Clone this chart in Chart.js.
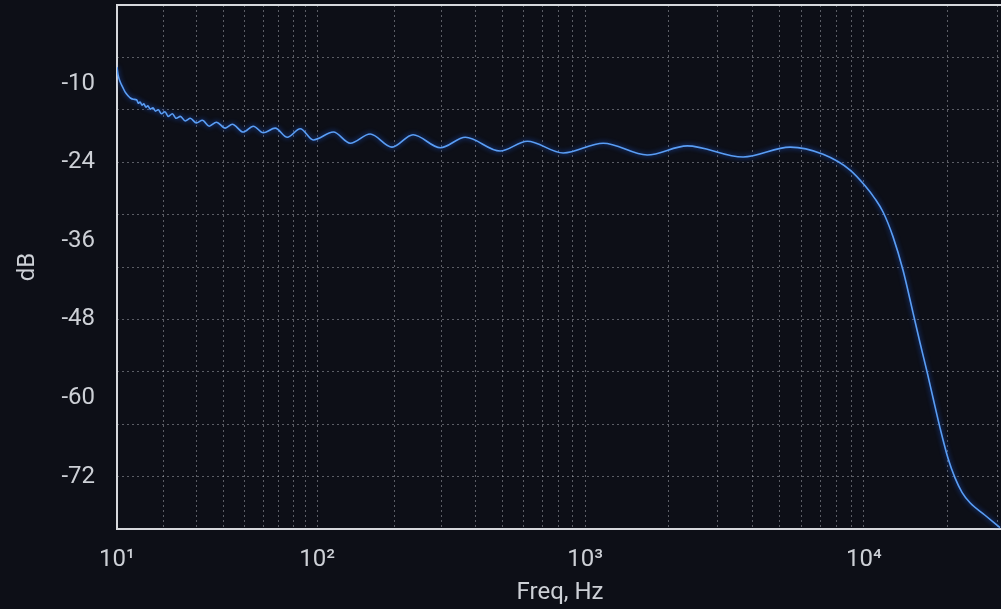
<!DOCTYPE html>
<html>
<head>
<meta charset="utf-8">
<script src="https://cdn.jsdelivr.net/npm/chart.js@4.4.0/dist/chart.umd.min.js"></script>
<style>
  html, body { margin: 0; padding: 0; background: #0d0f17; overflow: hidden; }
  canvas { display: block; }
</style>
</head>
<body>
<canvas id="myChart" width="1003" height="609"></canvas>
<script>
// frequency response
const freqHz = [
  10, 10.2, 10.6, 11.0, 11.5, 12.1, 12.5, 13.1,
  13.8, 14.1, 14.5, 14.9, 15.3, 15.8, 16.2, 16.8, 17.4, 18.0, 18.7, 19.5,
  20.4, 21.3, 22.4, 23.5, 24.7, 26.2, 27.8, 29.8, 31.9, 34.4, 37.2, 40.9,
  44.0, 49.2, 54.5, 60.1, 67.5, 75.8, 85.6, 96.5, 116, 135, 161, 195,
  234, 296, 366, 491, 617, 833, 1162, 1673, 2330, 3698, 5449, 7150,
  8932, 10105, 10972, 11718, 12724, 13813, 15000, 15892, 16832, 17686,
  18740, 20003, 21188, 22444, 23977, 27127, 30690
];
const gainDb = [
  -9.5, -10.7, -11.8, -12.5, -13.3, -13.9, -14.2, -14.4,
  -14.5, -15.0, -14.8, -15.3, -15.1, -15.6, -15.4, -15.9, -15.7, -16.2, -16.0, -16.6,
  -16.3, -17.0, -16.6, -17.3, -17.0, -17.7, -17.3, -18.0, -17.6, -18.5, -17.9, -18.8,
  -18.2, -19.4, -18.5, -19.5, -18.8, -20.2, -18.9, -20.6, -19.4, -21.1, -19.7, -21.7,
  -19.8, -21.8, -20.2, -22.3, -20.8, -22.6, -21.1, -22.9, -21.5, -23.2, -21.7, -22.8,
  -25.2, -27.6, -29.6, -31.6, -35.4, -40.5, -47.0, -51.6, -56.0, -60.0,
  -64.6, -69.2, -72.2, -74.4, -76.0, -77.9, -79.8
];

// axis ticks
const xGridFreqs = [
  10, 20, 30, 40, 50, 60, 70, 80, 90,
  100, 200, 300, 400, 500, 600, 700, 800, 900,
  1000, 2000, 3000, 4000, 5000, 6000, 7000, 8000, 9000,
  10000, 20000, 30000
];
const xTickFreqs = [10, 100, 1000, 10000];
const xTickLabels = ['10¹', '10²', '10³', '10⁴'];
const yGridValues = [-72, -64, -56, -48, -40, -32, -24, -16, -8];
const yLabelValues = [-72, -60, -48, -36, -24, -12];
const yLabelText = ['-72', '-60', '-48', '-36', '-24', '-10'];
const freqMin = 10, freqMax = 31450;
const dbMin = -80, dbMax = 0;

// the frequency axis in the picture is squeezed at the low end
function warp(f) { return Math.log10(f + 11.5); }

const textColor = '#cdd0d6';
const gridColor = 'rgba(200,202,210,0.42)';

const yTickVals = Array.from(new Set(yGridValues.concat(yLabelValues))).sort((a, b) => a - b);

const frame = {
  id: 'frame',
  beforeDatasetsDraw(chart) {
    const a = chart.chartArea, ctx = chart.ctx;
    ctx.save();
    ctx.strokeStyle = '#d6d8dc';
    ctx.lineWidth = 2;
    ctx.strokeRect(a.left, a.top, a.right - a.left, a.bottom - a.top);
    ctx.restore();
  },
  beforeDatasetDraw(chart) {
    chart.ctx.save();
    chart.ctx.shadowColor = 'rgba(30,90,220,0.9)';
    chart.ctx.shadowBlur = 5;
  },
  afterDatasetDraw(chart) {
    chart.ctx.restore();
  }
};

new Chart('myChart', {
  type: 'line',
  data: {
    datasets: [{
      data: freqHz.map((f, i) => ({ x: warp(f), y: gainDb[i] })),
      borderColor: '#5a9ef5',
      borderWidth: 1.6,
      pointRadius: 0,
      cubicInterpolationMode: 'monotone',
      fill: false
    }]
  },
  options: {
    responsive: false,
    animation: false,
    layout: { padding: { top: 5, left: 0, right: 0, bottom: 0 } },
    plugins: { legend: { display: false }, tooltip: { enabled: false } },
    scales: {
      x: {
        type: 'linear',
        min: warp(freqMin),
        max: warp(freqMax),
        afterBuildTicks: s => { s.ticks = xGridFreqs.map(f => ({ value: warp(f) })); },
        afterFit: s => { s.height = 80; s.paddingLeft = 0; s.paddingRight = 0; },
        grid: { color: gridColor, lineWidth: 1, drawTicks: false },
        border: { display: false, dash: [2, 3] },
        ticks: {
          autoSkip: false, maxRotation: 0, minRotation: 0, padding: 17,
          color: textColor, font: { family: 'Roboto', size: 24 },
          callback: (v, i) => {
            const k = xTickFreqs.indexOf(xGridFreqs[i]);
            return k >= 0 ? xTickLabels[k] : '';
          }
        },
        title: {
          display: true, text: 'Freq, Hz', color: textColor,
          font: { family: 'Roboto', size: 24 }, padding: { top: 0, bottom: 2 }
        }
      },
      y: {
        type: 'linear',
        min: dbMin,
        max: dbMax,
        afterBuildTicks: s => { s.ticks = yTickVals.map(v => ({ value: v })); },
        afterFit: s => { s.width = 117; s.paddingTop = 0; s.paddingBottom = 0; },
        grid: {
          color: c => (c.tick && yGridValues.includes(c.tick.value)) ? gridColor : 'rgba(0,0,0,0)',
          lineWidth: 1, drawTicks: false
        },
        border: { display: false, dash: [2, 3] },
        ticks: {
          autoSkip: false, padding: 22,
          color: textColor, font: { family: 'Roboto', size: 24 },
          callback: v => {
            const k = yLabelValues.indexOf(v);
            return k >= 0 ? yLabelText[k] : '';
          }
        },
        title: {
          display: true, text: 'dB', color: textColor,
          font: { family: 'Roboto', size: 24 }, padding: { top: 14, bottom: 0 }
        }
      }
    }
  },
  plugins: [frame]
});
</script>
</body>
</html>
